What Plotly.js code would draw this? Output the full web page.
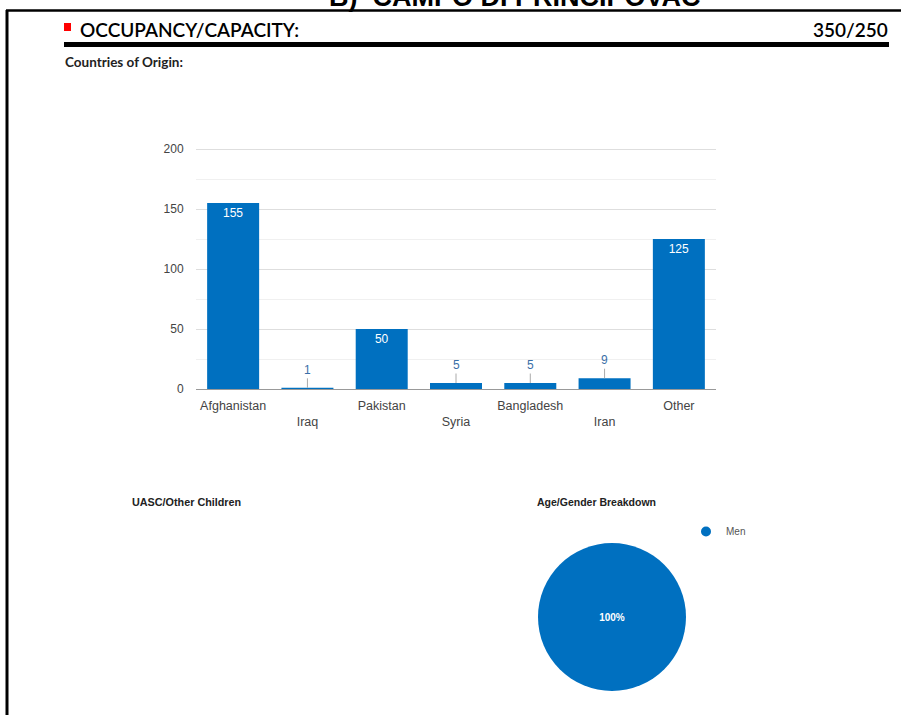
<!DOCTYPE html>
<html>
<head>
<meta charset="utf-8">
<script src="https://cdn.plot.ly/plotly-3.0.1.min.js"></script>
<style>
html,body{margin:0;padding:0;background:#fff;}
#chart{width:901px;height:715px;}
</style>
</head>
<body>
<div id="chart"></div>
<script>
// ---- data ----
const countries = ["Afghanistan", "Iraq", "Pakistan", "Syria", "Bangladesh", "Iran", "Other"];
const counts = [155, 1, 50, 5, 5, 9, 125];
const yTicks = [0, 50, 100, 150, 200];
const pieLabels = ["Men"];
const pieValues = [100];
const occupancy = "350/250";
const pageTitle = "B)  CAMPO DI PRINCIPOVAC";

const BLUE = "#0070C0";
const W = 901, H = 715;
const px = v => v / W;
const py = v => 1 - v / H;

// label placement: big bars inside, small bars outside with leader line
const insideThreshold = 20;
const textPos = counts.map(v => v >= insideThreshold ? "inside" : "none");

const barTrace = {
  type: "bar",
  x: countries,
  y: counts,
  marker: {color: BLUE},
  text: counts.map(String),
  textposition: textPos,
  insidetextanchor: "end",
  insidetextfont: {color: "#ffffff", size: 12, family: "Liberation Sans, Arial, sans-serif"},
  cliponaxis: false,
  hoverinfo: "x+y",
  showlegend: false,
  xaxis: "x",
  yaxis: "y"
};

const pieTrace = {
  type: "pie",
  labels: pieLabels,
  values: pieValues,
  marker: {colors: [BLUE]},
  textinfo: "percent",
  textposition: "inside",
  insidetextfont: {color: "#ffffff", size: 10, weight: "bold", family: "Liberation Sans, Arial, sans-serif"},
  domain: {x: [px(538), px(686)], y: [py(691), py(543)]},
  sort: false,
  showlegend: false
};

// legend entry with circular symbol for the pie
const legendTrace = {
  type: "scatter",
  mode: "markers",
  x: [null], y: [null],
  name: pieLabels[0],
  marker: {color: BLUE, size: 10, symbol: "circle"},
  xaxis: "x2", yaxis: "y2",
  showlegend: true,
  hoverinfo: "skip"
};

const annotations = [];
// outside labels with leader lines for small bars
countries.forEach((c, i) => {
  if (counts[i] < insideThreshold) {
    annotations.push({
      x: c, y: counts[i], xref: "x", yref: "y",
      text: String(counts[i]),
      showarrow: true, arrowhead: 0, arrowwidth: 1, arrowcolor: "#aaaaaa",
      ax: 0, ay: -18, standoff: 0,
      font: {color: "#3a6fa8", size: 12, family: "Liberation Sans, Arial, sans-serif"}
    });
  }
});

annotations.push(
  {xref: "paper", yref: "paper", x: px(515), y: py(-2.5), xanchor: "center", yanchor: "middle",
   text: "<b>" + pageTitle + "</b>", showarrow: false,
   font: {family: "Liberation Sans, Arial, sans-serif", size: 27, color: "#000"}},
  {xref: "paper", yref: "paper", x: px(78), y: py(29), xanchor: "left", yanchor: "middle",
   text: "OCCUPANCY/CAPACITY:", showarrow: false,
   font: {family: "Lato, sans-serif", size: 19, weight: 600, color: "#000"}},
  {xref: "paper", yref: "paper", x: px(890), y: py(29), xanchor: "right", yanchor: "middle",
   text: occupancy, showarrow: false,
   font: {family: "Lato, sans-serif", size: 19, weight: 600, color: "#000"}},
  {xref: "paper", yref: "paper", x: px(63), y: py(62), xanchor: "left", yanchor: "middle",
   text: "<b>Countries of Origin:</b>", showarrow: false,
   font: {family: "Lato, sans-serif", size: 13.5, color: "#222"}},
  {xref: "paper", yref: "paper", x: px(130), y: py(502), xanchor: "left", yanchor: "middle",
   text: "<b>UASC/Other Children</b>", showarrow: false,
   font: {family: "Liberation Sans, Arial, sans-serif", size: 10.8, color: "#222"}},
  {xref: "paper", yref: "paper", x: px(535), y: py(502), xanchor: "left", yanchor: "middle",
   text: "<b>Age/Gender Breakdown</b>", showarrow: false,
   font: {family: "Liberation Sans, Arial, sans-serif", size: 10.5, color: "#222"}}
);

const shapes = [
  // page border (left and top)
  {type: "line", xref: "paper", yref: "paper", x0: px(7), x1: px(7), y0: py(10), y1: py(720), line: {color: "#000", width: 3}},
  {type: "line", xref: "paper", yref: "paper", x0: px(6), x1: px(905), y0: py(10.5), y1: py(10.5), line: {color: "#000", width: 2.5}},
  // red marker
  {type: "rect", xref: "paper", yref: "paper", x0: px(64), x1: px(71), y0: py(31), y1: py(23), fillcolor: "#ff0000", line: {width: 0}},
  // thick header rule
  {type: "rect", xref: "paper", yref: "paper", x0: px(64), x1: px(889), y0: py(47), y1: py(42), fillcolor: "#000", line: {width: 0}}
];

const layout = {
  width: W, height: H,
  margin: {l: 0, r: 0, t: 0, b: 0},
  paper_bgcolor: "#fff",
  plot_bgcolor: "#fff",
  font: {family: "Liberation Sans, Arial, sans-serif", color: "#444"},
  bargap: 0.3,
  xaxis: {
    domain: [px(196), px(716)],
    anchor: "y",
    tickmode: "array",
    tickvals: countries,
    ticktext: countries.map((c, i) => i % 2 ? "<br>" + c : c),
    tickfont: {size: 12.5, color: "#444"},
    ticks: "outside", ticklen: 5, tickcolor: "rgba(0,0,0,0)",
    showgrid: false,
    showline: false,
    zeroline: false,
    fixedrange: true
  },
  yaxis: {
    domain: [py(389), py(144.2)],
    anchor: "x",
    range: [0, 204],
    tickmode: "array",
    tickvals: yTicks,
    tickfont: {size: 12, color: "#444"},
    ticks: "outside", ticklen: 9, tickcolor: "rgba(0,0,0,0)",
    gridcolor: "#dedede",
    gridwidth: 1,
    minor: {tickvals: [25, 75, 125, 175], showgrid: true, gridcolor: "#f0f0f0", ticks: ""},
    zeroline: true, zerolinecolor: "#999", zerolinewidth: 1,
    fixedrange: true
  },
  xaxis2: {domain: [0.9, 0.91], visible: false, anchor: "y2"},
  yaxis2: {domain: [0.0, 0.01], visible: false, anchor: "x2"},
  showlegend: true,
  legend: {
    x: px(686), y: py(517), xanchor: "left", yanchor: "top",
    font: {size: 10, color: "#555", family: "Liberation Sans, Arial, sans-serif"},
    bgcolor: "rgba(0,0,0,0)",
    itemwidth: 30
  },
  annotations: annotations,
  shapes: shapes
};

Plotly.newPlot("chart", [barTrace, pieTrace, legendTrace], layout, {staticPlot: true, displayModeBar: false});
</script>
</body>
</html>
